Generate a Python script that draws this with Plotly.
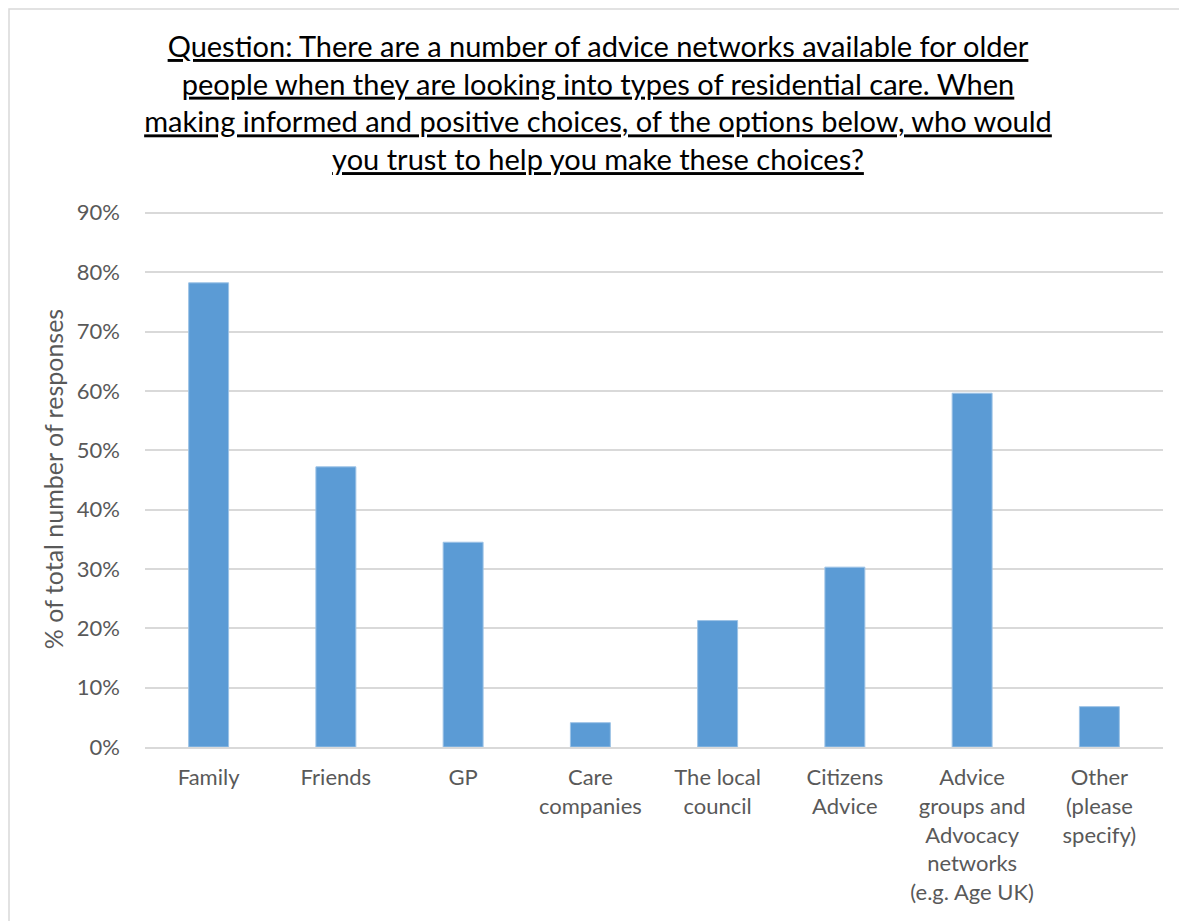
import plotly.graph_objects as go

categories = [
    "Family",
    "Friends",
    "GP",
    "Care<br>companies",
    "The local<br>council",
    "Citizens<br>Advice",
    "Advice<br>groups and<br>Advocacy<br>networks<br>(e.g. Age UK)",
    "Other<br>(please<br>specify)",
]
values = [78.2, 47.2, 34.5, 4.1, 21.3, 30.3, 59.6, 6.8]
y_ticks = [0, 10, 20, 30, 40, 50, 60, 70, 80, 90]
y_tick_labels = [f"{v}%" for v in y_ticks]

title_text = (
    "<u>Question: There are a number of advice networks available for older</u><br>"
    "<u>people when they are looking into types of residential care. When</u><br>"
    "<u>making informed and positive choices, of the options below, who would</u><br>"
    "<u>you trust to help you make these choices?</u>"
)

font_family = "Lato, 'Open Sans', sans-serif"

# page body adds an 8px offset, so margins are shifted to compensate
left, right, top, bottom = 137, 32, 203, 182
plot_w = 1187 - left - right
plot_h = 921 - top - bottom

fig = go.Figure()

fig.add_trace(
    go.Bar(
        x=categories,
        y=values,
        marker=dict(
            color="#5b9bd5",
            line=dict(color="#9dc3e6", width=1)
        ),
        hoverinfo="x+y"
    )
)

fig.update_layout(
    width=1187,
    height=921,
    paper_bgcolor="white",
    plot_bgcolor="white",
    font=dict(family=font_family, color="#595959"),
    showlegend=False,
    bargap=0.686,
    margin=dict(l=left, r=right, t=top, b=bottom),
    title=dict(
        text=title_text,
        x=590 / 1187,
        xanchor="center",
        xref="container",
        y=1 - 49 / 921,
        yref="container",
        yanchor="top",
        font=dict(family=font_family, size=29, color="black")
    ),
    xaxis=dict(
        tickfont=dict(size=22, color="#595959"),
        showgrid=False,
        showline=True,
        linecolor="#d9d9d9",
        linewidth=2,
        ticks="",
        ticklabelstandoff=10
    ),
    yaxis=dict(
        range=[0, 90.3],
        tickmode="array",
        tickvals=y_ticks,
        ticktext=y_tick_labels,
        tickfont=dict(size=22, color="#595959"),
        showgrid=True,
        gridcolor="#d9d9d9",
        gridwidth=1.5,
        zeroline=False,
        showline=False,
        ticks="",
        ticklabelstandoff=24,
        title=dict(
            text="% of total number of responses",
            font=dict(size=25, color="#595959"),
            standoff=6
        )
    ),
    shapes=[
        dict(
            type="rect",
            xref="paper",
            yref="paper",
            x0=-(left - 1) / plot_w,
            x1=(plot_w + right + 20) / plot_w,
            y0=-(bottom + 20) / plot_h,
            y1=(plot_h + top - 1) / plot_h,
            line=dict(color="#d9d9d9", width=1.5),
            fillcolor="rgba(0,0,0,0)",
            layer="below"
        )
    ]
)

fig.write_html("out.html")
